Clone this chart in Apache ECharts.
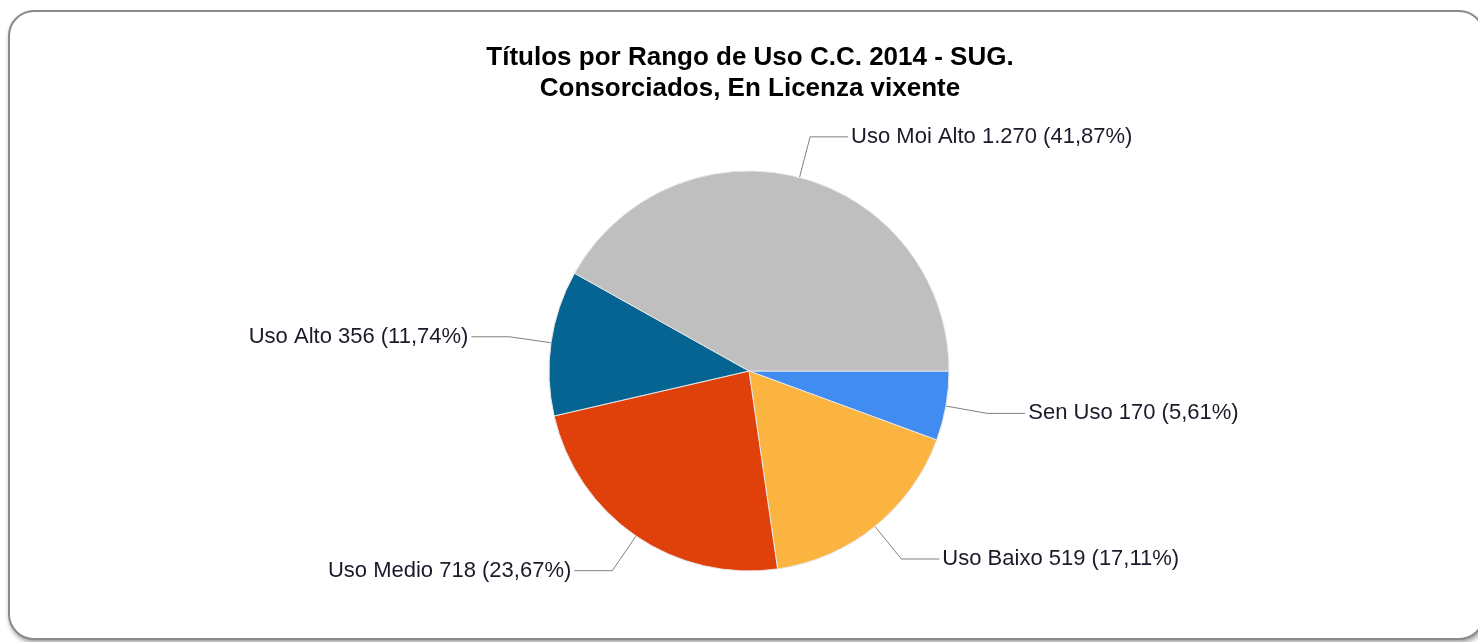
<!DOCTYPE html>
<html>
<head>
<meta charset="utf-8">
<script src="https://cdn.jsdelivr.net/npm/echarts@6/dist/echarts.min.js"></script>
<style>
html,body{margin:0;padding:0;background:#fff;width:1478px;height:642px;overflow:hidden;}
#frame{position:absolute;left:8px;top:10px;width:1473px;height:626px;border:2px solid #8a8a8a;border-radius:26px;box-shadow:1px 3px 4px rgba(0,0,0,0.35);background:#fff;}
#chart{position:absolute;left:0;top:0;width:1478px;height:642px;}
</style>
</head>
<body>
<div id="frame"></div>
<div id="chart"></div>
<script>
const categories = ['Sen Uso', 'Uso Baixo', 'Uso Medio', 'Uso Alto', 'Uso Moi Alto'];
const values = [170, 519, 718, 356, 1270];
const valueLabels = ['170', '519', '718', '356', '1.270'];
const percentLabels = ['5,61%', '17,11%', '23,67%', '11,74%', '41,87%'];
const colors = ['#418CF0', '#FCB441', '#E0400A', '#056492', '#BFBFBF'];

const data = categories.map((c, i) => ({
  name: c,
  value: values[i],
  itemStyle: { color: colors[i] }
}));

const chart = echarts.init(document.getElementById('chart'), null, { renderer: 'canvas' });
chart.setOption({
  animation: false,
  backgroundColor: 'transparent',
  title: {
    text: 'Títulos por Rango de Uso C.C. 2014 - SUG.\nConsorciados, En Licenza vixente',
    left: 745,
    textAlign: 'center',
    top: 37,
    textStyle: {
      fontFamily: 'Liberation Sans, Arial, sans-serif',
      fontWeight: 'bold',
      fontSize: 26,
      lineHeight: 31,
      color: '#000'
    }
  },
  series: [{
    type: 'pie',
    center: [749, 371],
    radius: 200,
    startAngle: 0,
    clockwise: true,
    avoidLabelOverlap: false,
    data: data,
    itemStyle: { borderColor: '#e6e6e6', borderWidth: 1 },
    label: {
      show: true,
      formatter: p => p.name + ' ' + valueLabels[p.dataIndex] + ' (' + percentLabels[p.dataIndex] + ')',
      fontFamily: 'Liberation Sans, Arial, sans-serif',
      fontSize: 22,
      color: '#1a1a2a',
      distanceToLabelLine: 3
    },
    labelLine: {
      show: true,
      length: 42,
      length2: 38,
      lineStyle: { color: '#808080', width: 1 }
    },
    emphasis: { disabled: true }
  }]
});
</script>
</body>
</html>
